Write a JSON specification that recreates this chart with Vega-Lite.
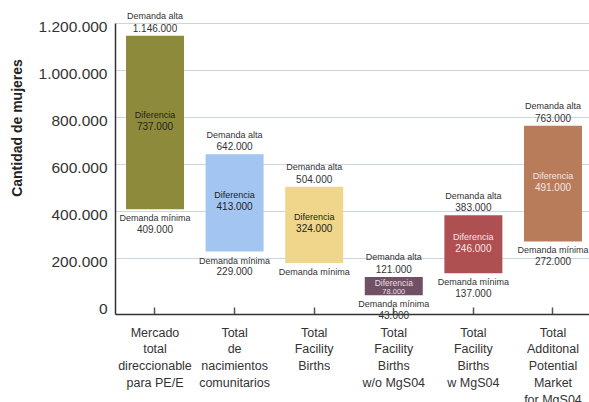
{
  "$schema": "https://vega.github.io/schema/vega-lite/v6.json",
  "autosize": "none",
  "width": 474,
  "height": 291,
  "padding": {"left": 115, "top": 23, "right": 0, "bottom": 88},
  "background": "white",
  "config": {
    "locale": {"number": {"decimal": ",", "thousands": ".", "grouping": [3], "currency": ["", " €"]}},
    "view": {"stroke": null},
    "font": "Liberation Sans",
    "text": {"font": "Liberation Sans", "baseline": "middle", "align": "center"}
  },
  "data": {
    "values": [
      {"id": 1, "cat": "Mercado|total|direccionable|para PE/E", "min": 409000, "max": 1146000, "diff": 737000},
      {"id": 2, "cat": "Total|de|nacimientos|comunitarios", "min": 229000, "max": 642000, "diff": 413000},
      {"id": 3, "cat": "Total|Facility|Births", "min": 180000, "max": 504000, "diff": 324000},
      {"id": 4, "cat": "Total|Facility|Births|w/o MgS04", "min": 43000, "max": 121000, "diff": 78000},
      {"id": 5, "cat": "Total|Facility|Births|w MgS04", "min": 137000, "max": 383000, "diff": 246000},
      {"id": 6, "cat": "Total|Additonal|Potential|Market|for MgS04", "min": 272000, "max": 763000, "diff": 491000}
    ]
  },
  "transform": [{"calculate": "(datum.min + datum.max) / 2", "as": "mid"}],
  "encoding": {
    "x": {
      "field": "cat",
      "type": "nominal",
      "sort": null,
      "scale": {"paddingInner": 0.2714, "paddingOuter": 0.1132, "align": 0.61},
      "axis": {
        "title": null,
        "labelAngle": 0,
        "labelExpr": "split(datum.label, '|')",
        "labelFont": "Liberation Sans",
        "labelFontSize": 12.5,
        "labelLineHeight": 16.75,
        "labelColor": "#333333",
        "labelBaseline": "top",
        "labelPadding": 19,
        "domainColor": "#333333",
        "domainWidth": 1.5,
        "tickColor": "#555555",
        "tickWidth": 1.5,
        "tickSize": -7
      }
    }
  },
  "layer": [
    {
      "mark": {"type": "bar"},
      "encoding": {
        "y": {
          "field": "min",
          "type": "quantitative",
          "scale": {"domain": [-36500, 1200000], "nice": false, "zero": false},
          "axis": {
            "values": [0, 200000, 400000, 600000, 800000, 1000000, 1200000],
            "format": ",d",
            "labelFont": "Liberation Sans",
            "labelFontSize": 15.5,
            "labelColor": "#333333",
            "labelPadding": 8,
            "labelOffset": 3.5,
            "ticks": false,
            "domainColor": "#333333",
            "domainWidth": 1.5,
            "grid": true,
            "gridColor": "#c9d7e3",
            "gridWidth": 1.2,
            "gridOpacity": {"condition": {"test": "datum.value === 0", "value": 0}, "value": 1},
            "title": "Cantidad de mujeres",
            "titleFont": "Liberation Sans",
            "titleFontSize": 14,
            "titleFontWeight": "bold",
            "titleColor": "#222222",
            "titleAngle": -90,
            "titleAlign": "center",
            "titleBaseline": "middle",
            "titleX": -98,
            "titleY": 104.5
          }
        },
        "y2": {"field": "max"},
        "color": {
          "field": "id",
          "type": "ordinal",
          "legend": null,
          "scale": {"domain": [1, 2, 3, 4, 5, 6], "range": ["#8d8a3c", "#a3c5f2", "#f0d68b", "#705064", "#ae5052", "#b97c5a"]}
        }
      }
    },
    {
      "mark": {"type": "text", "dy": -19.5, "fontSize": 9, "color": "#333333"},
      "encoding": {"y": {"field": "max", "type": "quantitative"}, "text": {"value": "Demanda alta"}}
    },
    {
      "mark": {"type": "text", "dy": -7, "fontSize": 10, "color": "#333333"},
      "encoding": {"y": {"field": "max", "type": "quantitative"}, "text": {"field": "max", "type": "quantitative", "format": ",d"}}
    },
    {
      "mark": {"type": "text", "dy": 9, "fontSize": 9, "color": "#333333"},
      "encoding": {"y": {"field": "min", "type": "quantitative"}, "text": {"value": "Demanda mínima"}}
    },
    {
      "transform": [{"filter": "datum.id !== 3"}],
      "mark": {"type": "text", "dy": 20.5, "fontSize": 10, "color": "#333333"},
      "encoding": {"y": {"field": "min", "type": "quantitative"}, "text": {"field": "min", "type": "quantitative", "format": ",d"}}
    },
    {
      "transform": [{"filter": "datum.diff >= 100000"}],
      "mark": {"type": "text", "dy": -7.5, "fontSize": 9},
      "encoding": {
        "y": {"field": "mid", "type": "quantitative"},
        "text": {"value": "Diferencia"},
        "color": {"condition": {"test": "datum.id >= 4", "value": "#f3e4e4"}, "value": "#222222"}
      }
    },
    {
      "transform": [{"filter": "datum.diff >= 100000"}],
      "mark": {"type": "text", "dy": 4.5, "fontSize": 10},
      "encoding": {
        "y": {"field": "mid", "type": "quantitative"},
        "text": {"field": "diff", "type": "quantitative", "format": ",d"},
        "color": {"condition": {"test": "datum.id >= 4", "value": "#f3e4e4"}, "value": "#222222"}
      }
    },
    {
      "transform": [{"filter": "datum.diff < 100000"}],
      "mark": {"type": "text", "dy": -3, "fontSize": 8.5, "color": "#eadde3"},
      "encoding": {"y": {"field": "mid", "type": "quantitative"}, "text": {"value": "Diferencia"}}
    },
    {
      "transform": [{"filter": "datum.diff < 100000"}],
      "mark": {"type": "text", "dy": 5.5, "fontSize": 7.5, "color": "#eadde3"},
      "encoding": {"y": {"field": "mid", "type": "quantitative"}, "text": {"field": "diff", "type": "quantitative", "format": ",d"}}
    }
  ]
}
